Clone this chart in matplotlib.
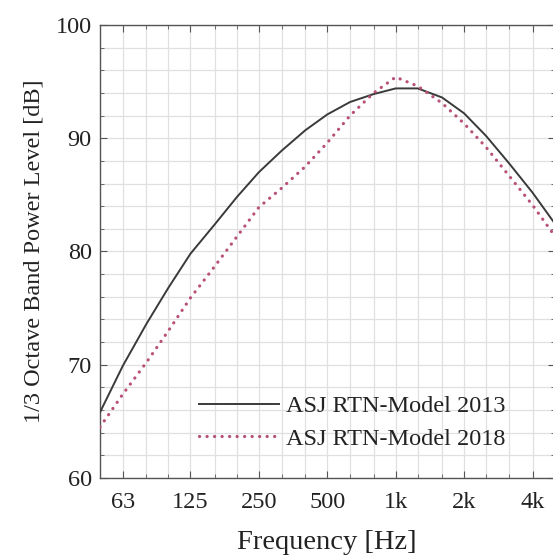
import numpy as np
import matplotlib
matplotlib.use("Agg")
import matplotlib.pyplot as plt
from matplotlib.ticker import FixedLocator, NullFormatter

# 1/3-octave band centre frequencies [Hz]
freqs = [50, 63, 80, 100, 125, 160, 200, 250, 315, 400, 500,
         630, 800, 1000, 1250, 1600, 2000, 2500, 3150, 4000, 5000]

# ASJ RTN-Model 2013 [dB]
level_2013 = [65.8, 69.9, 73.6, 76.8, 79.8, 82.4, 84.8, 87.0, 88.9, 90.7, 92.1,
              93.2, 93.9, 94.4, 94.4, 93.6, 92.2, 90.2, 87.8, 85.2, 82.5]
# ASJ RTN-Model 2018 [dB]
level_2018 = [64.5, 67.4, 70.2, 73.0, 75.9, 78.7, 81.3, 83.9, 85.6, 87.5, 89.6,
              92.0, 94.0, 95.4, 94.6, 93.1, 91.3, 89.2, 86.7, 84.1, 81.4]

major_ticks = [63, 125, 250, 500, 1000, 2000, 4000]
major_labels = ["63", "125", "250", "500", "1k", "2k", "4k"]

C_2013 = "#3a3a3a"
C_2018 = "#b8507a"

plt.rcParams.update({
    "font.family": ["Liberation Serif", "DejaVu Serif"],
    "font.size": 17,
})

fig = plt.figure(figsize=(5.53, 5.59), dpi=100)
ax = fig.add_axes([0.1808, 0.1449, 0.822, 0.8104])

ax.plot(freqs, level_2013, color=C_2013, linewidth=1.4,
        label="ASJ RTN-Model 2013", zorder=3)
ax.plot(freqs, level_2018, color=C_2018, linewidth=2.3,
        linestyle=(0, (0.05, 2.3)), dash_capstyle="round",
        label="ASJ RTN-Model 2018", zorder=3)

ax.set_xscale("log")
ax.set_xlim(50, 5000)
ax.set_ylim(60, 100)

ax.xaxis.set_major_locator(FixedLocator(major_ticks))
ax.set_xticklabels(major_labels)
ax.xaxis.set_minor_locator(FixedLocator([f for f in freqs if f not in major_ticks]))
ax.xaxis.set_minor_formatter(NullFormatter())
ax.set_yticks([60, 70, 80, 90, 100])
ax.yaxis.set_minor_locator(FixedLocator(np.arange(60, 101, 2)))

ax.grid(True, which="both", color="#e0e0e0", linewidth=0.9)
ax.set_axisbelow(True)
ax.tick_params(which="both", direction="in", top=True, right=True,
               color="#555555", labelsize=17.5, labelcolor="#222222")
ax.tick_params(which="major", length=5)
ax.tick_params(axis="x", which="major", pad=10)
ax.tick_params(axis="y", which="major", pad=6)
ax.tick_params(which="minor", length=3)
for s in ax.spines.values():
    s.set_color("#555555")
    s.set_linewidth(1.0)

ax.set_xlabel("Frequency [Hz]", fontsize=20.5, labelpad=12, color="#222222")
ax.set_ylabel("1/3 Octave Band Power Level [dB]", fontsize=17.5, labelpad=8,
              color="#222222")

ax.legend(loc="lower left", bbox_to_anchor=(0.19, 0.035), frameon=False,
          borderpad=0, fontsize=17.5, handlelength=3.3, handletextpad=0.3,
          labelspacing=0.45, labelcolor="#222222")

fig.savefig("out.png", dpi=100)
